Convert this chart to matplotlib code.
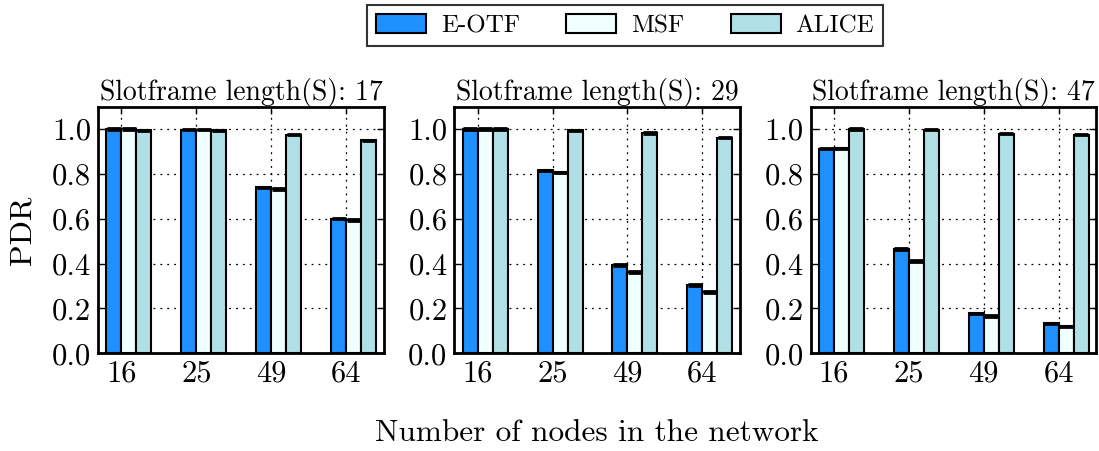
import matplotlib
matplotlib.use('Agg')
import matplotlib.pyplot as plt
import numpy as np

plt.rcParams['font.family'] = 'cmr10'
plt.rcParams['axes.formatter.use_mathtext'] = True
plt.rcParams['mathtext.fontset'] = 'cm'

# Data
nodes = ['16', '25', '49', '64']
slotframes = [17, 29, 47]
methods = ['E-OTF', 'MSF', 'ALICE']
colors = ['#1E90FF', '#F0FFFF', '#B0E0E6']

eotf = [[1.0, 0.998, 0.740, 0.600],
        [1.0, 0.816, 0.394, 0.305],
        [0.913, 0.465, 0.179, 0.133]]
msf = [[1.0, 0.998, 0.733, 0.594],
       [1.0, 0.807, 0.362, 0.274],
       [0.915, 0.412, 0.167, 0.120]]
alice = [[0.995, 0.995, 0.976, 0.950],
         [1.0, 0.995, 0.982, 0.962],
         [1.0, 0.997, 0.980, 0.975]]
err = 0.003

fig, axes = plt.subplots(1, 3, figsize=(10.99, 4.51), dpi=100)
fig.subplots_adjust(left=0.0894, right=0.9973, bottom=0.2166, top=0.7634, wspace=0.248)

x = np.arange(len(nodes))
width = 0.2

for k, ax in enumerate(axes):
    for j, vals in enumerate([eotf[k], msf[k], alice[k]]):
        pos = x - width + j * width + width / 2
        ax.bar(pos, vals, width, color=colors[j], edgecolor='black', linewidth=1.5,
               label=methods[j], zorder=3,
               yerr=err, error_kw=dict(ecolor='black', capsize=5, capthick=2, elinewidth=1))
    ax.set_xlim(-0.31, 3.5)
    ax.set_ylim(0, 1.1)
    ax.set_xticks(x)
    ax.set_xticklabels(nodes)
    ax.set_yticks(np.arange(0, 1.01, 0.2))
    ax.yaxis.set_major_formatter(matplotlib.ticker.FormatStrFormatter('%.1f'))
    ax.tick_params(direction='in', top=True, right=True, labelsize=22, length=5, width=1, pad=5)
    ax.grid(True, color='black', linestyle=(0, (1.5, 4)), linewidth=0.9, zorder=0)
    for s in ax.spines.values():
        s.set_linewidth(2)
    ax.set_title(f'Slotframe length(S): {slotframes[k]}', fontsize=20, pad=5)

fig.text(0.021, 0.49, 'PDR', rotation=90, ha='center', va='center', fontsize=23)
fig.text(0.543, 0.04, 'Number of nodes in the network', ha='center', va='center', fontsize=22.5)

handles, labels = axes[0].get_legend_handles_labels()
leg = fig.legend(handles, labels, loc='upper center', bbox_to_anchor=(0.5687, 1.016), ncol=3,
                 fontsize=18, fancybox=False, edgecolor='black', handlelength=2.0,
                 handleheight=0.8, handletextpad=0.6, columnspacing=1.85, borderpad=0.35)
leg.get_frame().set_linewidth(1.5)

fig.savefig('out.png', dpi=100)
